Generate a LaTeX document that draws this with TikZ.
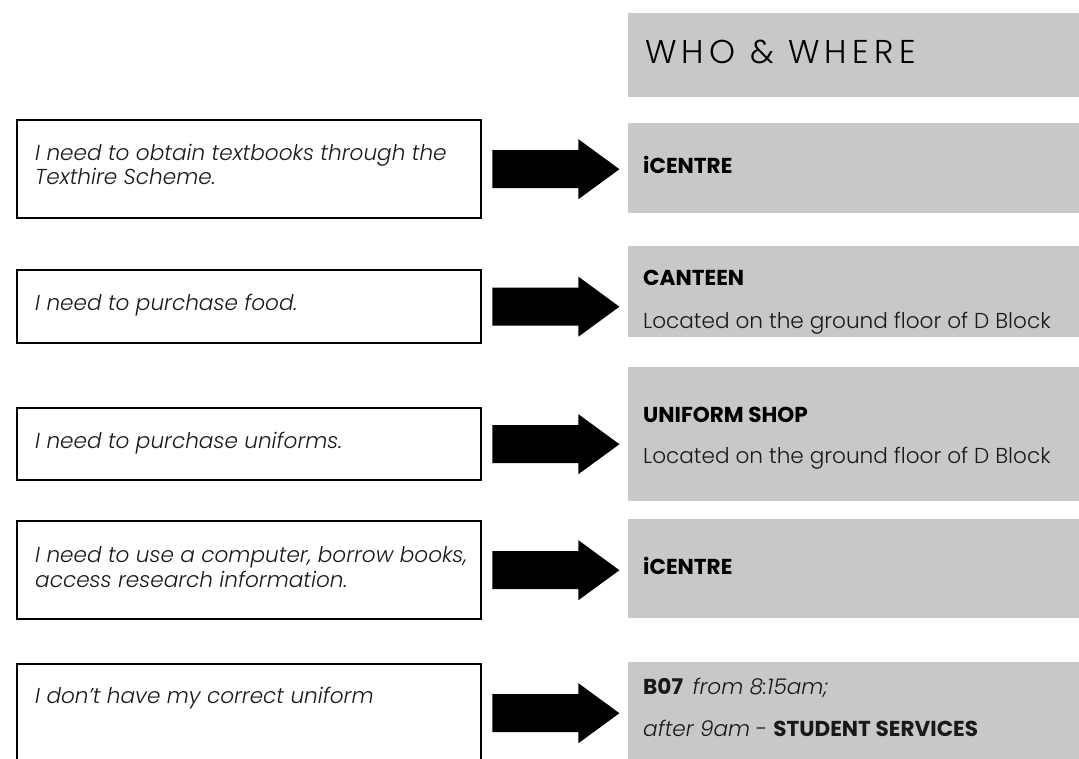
\documentclass[tikz,border=0pt]{standalone}
\usepackage{fontspec}
\setmainfont{Poppins}[UprightFont=* Light, ItalicFont=* Light Italic, BoldFont=* Bold, BoldItalicFont=* Bold Italic]
\definecolor{boxgray}{RGB}{199,200,202}
\definecolor{ink}{RGB}{25,25,25}
\tikzset{
  qbox/.style={draw=black, line width=2.4pt, fill=white, inner sep=0pt, anchor=north west},
  abox/.style={fill=boxgray, inner sep=0pt, anchor=north west, minimum width=460pt},
  qtext/.style={anchor=base west, inner sep=0pt, text=ink, font=\fontsize{21.6}{24}\selectfont\itshape},
  atext/.style={anchor=base west, inner sep=0pt, text=ink, font=\fontsize{21.6}{24}\selectfont},
  btext/.style={anchor=base west, inner sep=0pt, text=black, font=\fontsize{21.6}{24}\selectfont\bfseries},
  htext/.style={anchor=base west, inner sep=0pt, text=black, font=\fontsize{33}{36}\selectfont\addfontfeature{LetterSpace=16}},
}
\newcommand\blockarrow[1]{%
  \fill[black] ([shift={(10,-19)}]#1.east) -- ++(86,0) -- ++(0,-11) -- ++(41,30)
    -- ++(-41,30) -- ++(0,-11) -- ++(-86,0) -- cycle;}
\begin{document}
\begin{tikzpicture}[x=1pt,y=-1pt]
\useasboundingbox (0,0) rectangle (1079,758);
\clip (0,0) rectangle (1079,758);
% question boxes
\node[qbox, minimum width=464pt, minimum height=98pt] (q1) at (16,119) {};
\node[qbox, minimum width=464pt, minimum height=73pt] (q2) at (16,269) {};
\node[qbox, minimum width=464pt, minimum height=72pt] (q3) at (16,407) {};
\node[qbox, minimum width=464pt, minimum height=98pt] (q4) at (16,520) {};
\node[qbox, minimum width=464pt, minimum height=98pt] (q5) at (16,663) {};
% answer boxes
\node[abox, minimum height=84pt] (h) at (628,13) {};
\node[abox, minimum height=90pt] (g1) at (628,123) {};
\node[abox, minimum height=91pt] (g2) at (628,246) {};
\node[abox, minimum height=134pt] (g3) at (628,367) {};
\node[abox, minimum height=99pt] (g4) at (628,519) {};
\node[abox, minimum height=100pt] (g5) at (628,662) {};
% arrows
\blockarrow{q1}
\blockarrow{q2}
\blockarrow{q3}
\blockarrow{q4}
\blockarrow{q5}
% question texts
\node[qtext] (t1a) at (35,160) {I need to obtain textbooks through the};
\node[qtext] (t1b) at (35,184) {Texthire Scheme.};
\node[qtext] (t2) at (35,310) {I need to purchase food.};
\node[qtext] (t3) at (35,448) {I need to purchase uniforms.};
\node[qtext] (t4a) at (35,562) {I need to use a computer, borrow books,};
\node[qtext] (t4b) at (35,587) {access research information.};
\node[qtext] (t5) at (35,703) {I don’t have my correct uniform};
% answer texts
\node[htext] (ht) at (645,63) {WHO \& WHERE};
\node[btext] (s1) at (643,173) {iCENTRE};
\node[btext] (s2) at (643,285) {CANTEEN};
\node[atext] (s2b) at (643,328) {Located on the ground floor of D Block};
\node[btext] (s3) at (643,422) {UNIFORM SHOP};
\node[atext] (s3b) at (643,463) {Located on the ground floor of D Block};
\node[btext] (s4) at (643,574) {iCENTRE};
\node[atext] (s5) at (643,694) {\textbf{B07}\, \textit{from 8:15am;}};
\node[atext] (s5b) at (643,736) {\textit{after 9am} - \textbf{STUDENT SERVICES}};
\end{tikzpicture}
\end{document}
